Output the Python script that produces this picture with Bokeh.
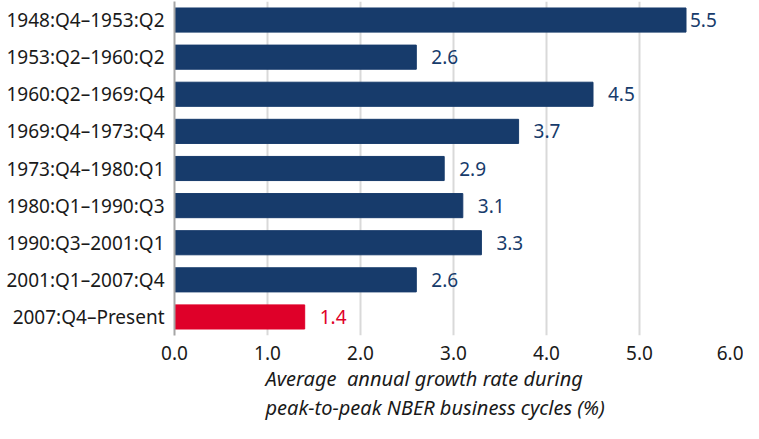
from bokeh.plotting import figure
from bokeh.models import ColumnDataSource, FixedTicker, Title, CustomJSTickFormatter
from bokeh.core.properties import value
from bokeh.embed import file_html
from bokeh.resources import INLINE

periods = ["1948:Q4\u20131953:Q2", "1953:Q2\u20131960:Q2", "1960:Q2\u20131969:Q4",
           "1969:Q4\u20131973:Q4", "1973:Q4\u20131980:Q1", "1980:Q1\u20131990:Q3",
           "1990:Q3\u20132001:Q1", "2001:Q1\u20132007:Q4", "2007:Q4\u2013Present"]
growth = [5.5, 2.6, 4.5, 3.7, 2.9, 3.1, 3.3, 2.6, 1.4]
x_ticks = [0, 1, 2, 3, 4, 5, 6]
title_lines = ["Average\u00a0 annual growth rate during", "peak-to-peak NBER business cycles (%)"]

NAVY = "#173B6B"
RED = "#DF0029"
FONT = "Noto Sans"
colors = [RED if p.endswith("Present") else NAVY for p in periods]
labels = ["%.1f" % v for v in growth]
offsets = [4 if v > 5.3 else 15 for v in growth]

src = ColumnDataSource(dict(period=periods, growth=growth, color=colors,
                            label=labels, off=offsets))

p = figure(width=743, height=423, output_backend="svg", toolbar_location=None,
           y_range=list(reversed(periods)), x_range=(0, 6),
           min_border_left=174, min_border_right=11, min_border_top=1,
           min_border_bottom=88)
p.outline_line_color = None
p.background_fill_color = "white"

p.hbar(y="period", right="growth", left=0, height=0.65, color="color", source=src)
p.text(x="growth", y="period", text="label", x_offset="off", source=src,
       text_color="color", text_baseline="middle", text_align="left",
       text_font=value(FONT), text_font_size="19px")

# x axis
p.xaxis.ticker = FixedTicker(ticks=x_ticks)
p.xaxis.formatter = CustomJSTickFormatter(code="return tick.toFixed(1);")
p.xaxis.axis_line_color = None
p.xaxis.major_tick_line_color = None
p.xaxis.minor_tick_line_color = None
p.xaxis.major_tick_out = 0
p.xaxis.major_tick_in = 0
p.xaxis.major_label_text_font = FONT
p.xaxis.major_label_text_font_size = "19px"
p.xaxis.major_label_text_color = "#1a1a1a"
p.xaxis.major_label_standoff = 10

# y axis
p.yaxis.axis_line_color = "#A6A6A6"
p.yaxis.axis_line_width = 2
p.yaxis.major_tick_line_color = None
p.yaxis.major_tick_out = 0
p.yaxis.major_tick_in = 0
p.yaxis.minor_tick_line_color = None
p.yaxis.major_label_text_font = FONT
p.yaxis.major_label_text_font_size = "19px"
p.yaxis.major_label_text_color = "#1a1a1a"
p.yaxis.major_label_standoff = 10

p.ygrid.grid_line_color = None
p.xgrid.grid_line_color = "#D9D9D9"
p.xgrid.grid_line_width = 2

for t in title_lines:
    p.add_layout(Title(text=t, align="left", offset=91, standoff=0,
                       text_font=FONT, text_font_size="20px",
                       text_font_style="italic", text_color="#1a1a1a"), "below")

open("out.html", "w").write(file_html(p, INLINE))
